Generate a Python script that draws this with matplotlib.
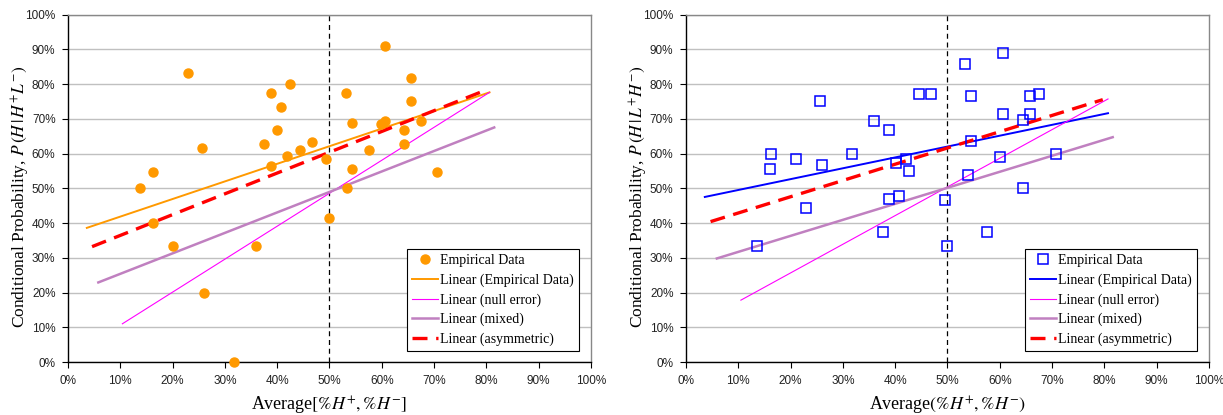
import matplotlib
matplotlib.use("Agg")
import matplotlib.pyplot as plt
from matplotlib.ticker import PercentFormatter, MultipleLocator

plt.rcParams['mathtext.fontset'] = 'stix'

# empirical points, left panel: P(H | H+ L-)
hl_x = [23.0, 60.6, 42.5, 38.9, 53.1, 65.6, 40.7, 65.6, 54.4, 60.6, 59.8, 67.5,
        40.0, 64.3, 37.5, 46.7, 44.4, 57.5, 64.3, 25.7, 41.9, 49.4, 38.9, 54.4,
        16.2, 70.6, 13.7, 53.3, 16.2, 50.0, 20.1, 35.9, 26.0, 31.7]
hl_y = [83.3, 91.0, 80.0, 77.3, 77.3, 81.8, 73.3, 75.0, 68.8, 69.5, 68.5, 69.5,
        66.7, 66.7, 62.6, 63.2, 61.1, 61.1, 62.6, 61.6, 59.3, 58.3, 56.3, 55.6,
        54.6, 54.6, 50.0, 50.0, 39.9, 41.3, 33.3, 33.3, 20.0, 0.0]

# empirical points, right panel: P(H | L+ H-)
lh_x = [60.7, 53.4, 25.7, 44.5, 46.8, 54.5, 65.7, 67.6, 35.9, 38.9, 60.7, 65.7,
        64.5, 54.5, 16.2, 21.1, 31.7, 70.7, 42.0, 40.1, 60.1, 16.1, 26.0, 42.6,
        54.0, 64.5, 23.0, 38.9, 40.7, 49.5, 37.6, 57.6, 13.6, 50.0]
lh_y = [89.0, 85.8, 75.0, 77.0, 77.0, 76.5, 76.5, 77.0, 69.3, 66.7, 71.4, 71.4,
        69.7, 63.7, 60.0, 58.3, 60.0, 60.0, 58.4, 57.2, 58.9, 55.6, 56.6, 55.1,
        53.8, 50.1, 44.4, 47.0, 47.7, 46.6, 37.4, 37.4, 33.3, 33.3]

# trend lines as (x start, x end), (y start, y end)
hl_fit_emp = ([3.6, 80.6], [38.6, 77.6])
hl_fit_null = ([10.4, 80.6], [11.0, 77.6])
hl_fit_mixed = ([5.8, 81.5], [22.9, 67.5])
hl_fit_asym = ([4.6, 78.8], [33.2, 77.6])

lh_fit_emp = ([3.6, 80.7], [47.5, 71.6])
lh_fit_null = ([10.5, 80.7], [17.8, 75.7])
lh_fit_mixed = ([5.9, 81.6], [29.8, 64.7])
lh_fit_asym = ([4.7, 79.7], [40.4, 75.5])

serif = 'Liberation Serif'
sans = 'Liberation Sans'


def pct(v):
    return [a / 100 for a in v]


def draw_panel(ax, xs, ys, fits, point_style, fit_color, xlabel, ylabel):
    fit_emp, fit_null, fit_mixed, fit_asym = fits
    ax.yaxis.grid(True, color='#c0c0c0', lw=1, zorder=0)
    ax.set_axisbelow(True)
    ax.axvline(0.5, color='black', lw=0.9, ls=(0, (4, 3)), zorder=1)

    ax.plot(pct(xs), pct(ys), ls='none', label='Empirical Data',
            clip_on=False, zorder=5, **point_style)
    ax.plot(pct(fit_emp[0]), pct(fit_emp[1]), color=fit_color, lw=1.4,
            label='Linear (Empirical Data)', zorder=3)
    ax.plot(pct(fit_null[0]), pct(fit_null[1]), color='#ff00ff', lw=0.8,
            label='Linear (null error)', zorder=3)
    ax.plot(pct(fit_mixed[0]), pct(fit_mixed[1]), color='#c080c0', lw=1.8,
            label='Linear (mixed)', zorder=3)
    ax.plot(pct(fit_asym[0]), pct(fit_asym[1]), color='#ff0000', lw=2.4,
            dashes=(4.5, 2.6), label='Linear (asymmetric)', zorder=4)

    ax.set_xlim(0, 1)
    ax.set_ylim(0, 1)
    ax.xaxis.set_major_locator(MultipleLocator(0.1))
    ax.yaxis.set_major_locator(MultipleLocator(0.1))
    ax.xaxis.set_major_formatter(PercentFormatter(1.0, decimals=0))
    ax.yaxis.set_major_formatter(PercentFormatter(1.0, decimals=0))
    ax.tick_params(direction='out', length=4, width=0.8, labelsize=8.5,
                   pad=5, colors='black')
    for lab in ax.get_xticklabels() + ax.get_yticklabels():
        lab.set_fontfamily(sans)
        lab.set_color('#222222')

    for side in ('left', 'bottom'):
        ax.spines[side].set_color('black')
        ax.spines[side].set_linewidth(1)
    for side in ('top', 'right'):
        ax.spines[side].set_color('#888888')
        ax.spines[side].set_linewidth(1)

    ax.set_xlabel(xlabel, fontsize=13, fontfamily=serif, labelpad=6)
    ax.set_ylabel(ylabel, fontsize=12.5, fontfamily=serif)
    ax.yaxis.set_label_coords(-0.068, 0.475)

    leg = ax.legend(loc='lower right', bbox_to_anchor=(0.977, 0.032),
                    prop={'family': serif, 'size': 10}, frameon=True,
                    fancybox=False, framealpha=1, edgecolor='black',
                    handlelength=1.9, handletextpad=0.15, labelspacing=0.45,
                    borderpad=0.35, borderaxespad=0)
    leg.get_frame().set_linewidth(0.8)


fig = plt.figure(figsize=(12.23, 4.15), dpi=100)
ax1 = fig.add_axes([0.0556, 0.1277, 0.4276, 0.8373])
ax2 = fig.add_axes([0.5609, 0.1277, 0.4276, 0.8373])

draw_panel(ax1, hl_x, hl_y,
           (hl_fit_emp, hl_fit_null, hl_fit_mixed, hl_fit_asym),
           dict(marker='o', ms=6.5, color='#ff9900', mec='#ff9900'),
           '#ff9900',
           r'Average$[\%H^{+},\%H^{-}]$',
           r'Conditional Probability, $P\,(H\,|\,H^{+}L^{-})$')

draw_panel(ax2, lh_x, lh_y,
           (lh_fit_emp, lh_fit_null, lh_fit_mixed, lh_fit_asym),
           dict(marker='s', ms=6.5, mfc='none', mec='#0000ff', mew=1.1),
           '#0000ff',
           r'Average$(\%H^{+},\%H^{-})$',
           r'Conditional Probability, $P\,(H\,|\,L^{+}H^{-})$')

fig.savefig('out.png', dpi=100)
